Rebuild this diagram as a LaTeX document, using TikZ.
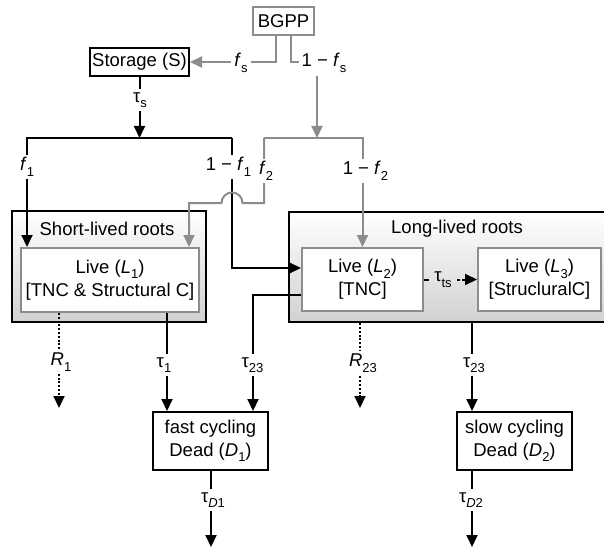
\documentclass[tikz,border=0pt]{standalone}
\usepackage{fontspec}
\setmainfont{Liberation Sans}
\usetikzlibrary{arrows.meta,calc}
\newcommand{\sbs}[1]{\raisebox{-0.3em}{\fontsize{13}{13}\selectfont #1}}
\newcommand{\ital}[1]{\textit{#1}}
\begin{document}
\begin{tikzpicture}[x=1pt,y=1pt,
  font=\fontsize{18.5}{23}\selectfont,
  bk/.style={line width=2pt, draw=black},
  gl/.style={line width=2pt, draw=black!45},
  tip/.style={-{Triangle[length=12pt,width=11pt]}},
  box/.style={draw, line width=2pt, fill=white, inner sep=2pt, align=center},
  gbox/.style={box, draw=black!45},
  outer/.style={draw, line width=2.4pt, top color=white, bottom color=black!18},
  lab/.style={fill=white, inner sep=3pt},
  dotl/.style={line width=2pt, dash pattern=on 2pt off 1.8pt},
  dashl/.style={line width=2pt, dash pattern=on 3pt off 2pt},
]
\useasboundingbox (0,0) rectangle (604,-548);
\clip (0,0) rectangle (604,-548);

% boxes
\node[gbox, minimum width=61pt, minimum height=28pt] (bgpp) at (283.5,-21) {BGPP};
\node[box, minimum width=99pt, minimum height=28pt] (stor) at (139.5,-62) {Storage (S)};
\node[outer, minimum width=194pt, minimum height=111pt] (sbox) at (109,-266.5) {};
\node[outer, minimum width=330pt, minimum height=110pt] (lbox) at (454,-267) {};
\node (sl) at (107,-228.5) {Short-lived roots};
\node (ll) at (457,-229) {Long-lived roots};
\node[gbox, minimum width=178pt, minimum height=64pt] (l1) at (110,-280) {Live (\ital{L}\sbs{1})\\{[}TNC \& Structural C{]}};
\node[gbox, minimum width=121pt, minimum height=63pt] (l2) at (362.5,-279.5) {Live (\ital{L}\sbs{2})\\{[}TNC{]}};
\node[gbox, minimum width=123pt, minimum height=63pt] (l3) at (539.5,-279.5) {Live (\ital{L}\sbs{3})\\{[}StrucluralC{]}};
\node[box, minimum width=115pt, minimum height=58pt] (d1) at (210.5,-441) {fast cycling\\Dead (\ital{D}\sbs{1})};
\node[box, minimum width=115pt, minimum height=58pt] (d2) at (514.5,-441) {slow cycling\\Dead (\ital{D}\sbs{2})};

% coordinates
\coordinate (s1) at (139.5,-138);
\coordinate (s1l) at (27,-138);
\coordinate (s1r) at (232,-138);
\coordinate (k1) at (232,-268);
\coordinate (k2) at (253,-295);
\coordinate (s2) at (317,-138);
\coordinate (s2l) at (264,-138);
\coordinate (s2r) at (362.5,-138);
\coordinate (h) at (232,-203);
\coordinate (g1) at (189,-203);
\coordinate (c1) at (167,0);
\coordinate (c3) at (472,0);
\coordinate (r1) at (59,-408);
\coordinate (r23) at (360,-408);
\coordinate (e1) at (211,-547);
\coordinate (e2) at (472,-547);

% black connectors
\draw[bk,tip] (stor.south) -- (s1);
\draw[bk,tip] (s1r) -- (s1l) -- (s1l |- l1.north);
\draw[bk,tip] (s1r) -- (k1) -- (k1 -| l2.west);
\draw[bk,tip] (k2 -| l2.west) -- (k2) -- (k2 |- d1.north);
\draw[bk,tip] (c1 |- l1.south) -- (c1 |- d1.north);
\draw[bk,tip] (c3 |- lbox.south) -- (c3 |- d2.north);
\draw[bk,tip] (d1.south -| e1) -- (e1);
\draw[bk,tip] (d2.south -| e2) -- (e2);
\draw[dotl,tip] (r1 |- l1.south) -- (r1);
\draw[dotl,tip] (r23 |- lbox.south) -- (r23);

% gray connectors
\draw[gl,tip] ([xshift=-7.5pt]bgpp.south) |- (stor.east);
\draw[gl] ([xshift=7.5pt]bgpp.south) |- (s2 |- stor.east);
\draw[gl,tip] (s2 |- stor.east) -- (s2);
\draw[gl,tip] (s2l) -- (s2r) -- (l2.north);
\draw[gl,tip] (s2l) -- (s2l |- h) -- ($(h)+(10.5,0)$) arc[start angle=0,end angle=180,radius=10.5pt] -- (g1) -- (g1 |- l1.north);

% tau_ts
\node[inner xsep=5pt, inner ysep=2pt] (tts) at (443,-279.5) {τ\sbs{ts}};
\draw[bk] (l2.east) -- (tts.west);
\draw[dashl,tip] (tts.east) -- (l3.west);

% labels
\node[lab] (fs) at (241,-63) {\ital{f}\sbs{s}};
\node[lab] (onefs) at (324,-63) {1 − \ital{f}\sbs{s}};
\node[lab] (ts) at (140,-100) {τ\sbs{s}};
\node[lab] (f1) at (27,-167) {\ital{f}\sbs{1}};
\node[lab] (onef1) at (228.5,-167) {1 − \ital{f}\sbs{1}};
\node[lab] (f2) at (266,-171) {\ital{f}\sbs{2}};
\node[lab] (onef2) at (365.5,-171) {1 − \ital{f}\sbs{2}};
\node[lab] (R1) at (61,-362) {\ital{R}\sbs{1}};
\node[lab] (t1) at (164,-365) {τ\sbs{1}};
\node[lab] (t23a) at (252.5,-365) {τ\sbs{23}};
\node[lab] (R23) at (363,-363) {\ital{R}\sbs{23}};
\node[lab] (t23b) at (474,-365) {τ\sbs{23}};
\node[lab] (td1) at (213,-500) {τ\sbs{\ital{D}1}};
\node[lab] (td2) at (471,-500) {τ\sbs{\ital{D}2}};
\end{tikzpicture}
\end{document}
